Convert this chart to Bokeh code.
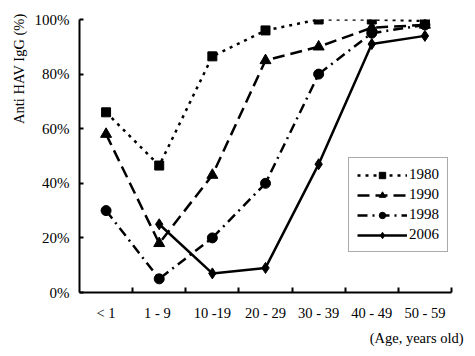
from bokeh.plotting import figure
from bokeh.models import FixedTicker, Legend, LegendItem, Range1d, Title
from bokeh.embed import file_html
from bokeh.resources import INLINE

categories = ["< 1", "1 -  9", "10 -19", "20 - 29", "30 - 39", "40 - 49", "50 - 59"]
y_ticks = [0, 20, 40, 60, 80, 100]
y_tick_labels = ["0%", "20%", "40%", "60%", "80%", "100%"]

s1980 = [66, 46.5, 86.5, 96, 100, 100, 99.5]
s1990 = [58, 18, 43, 85, 90, 97, 98]
s1998 = [30, 5, 20, 40, 80, 95, 98]
s2006 = [None, 25, 7, 9, 47, 91, 94]

FONT = "Liberation Serif"

p = figure(width=475, height=356, output_backend="svg", toolbar_location=None,
           x_range=Range1d(0, 7), y_range=Range1d(0, 100),
           min_border_left=79, min_border_right=24, min_border_top=19, min_border_bottom=64)
p.outline_line_color = None
p.xgrid.visible = False
p.ygrid.visible = False
p.background_fill_color = "white"
p.border_fill_color = "white"

xs_all = [i + 0.5 for i in range(len(categories))]

def pts(vals):
    xs, ys = [], []
    for x, v in zip(xs_all, vals):
        if v is not None:
            xs.append(x)
            ys.append(v)
    return xs, ys

items = []
specs = [
    ("1980", s1980, "3 5", "square", 9),
    ("1990", s1990, "12 6", "triangle", 11),
    ("1998", s1998, "10 5 2 5", "circle", 10),
    ("2006", s2006, "solid", "diamond", 11),
]
for name, vals, dash, marker, size in specs:
    xs, ys = pts(vals)
    r1 = p.line(xs, ys, line_color="black", line_width=2.5, line_dash=dash)
    r2 = p.scatter(xs, ys, marker=marker, size=size, fill_color="black", line_color="black")
    items.append(LegendItem(label=name, renderers=[r1, r2]))

legend = Legend(items=items, location=(269, 40))
legend.border_line_color = "#555555"
legend.border_line_width = 1
legend.label_text_font = FONT
legend.label_text_font_size = "15px"
legend.label_text_color = "black"
legend.glyph_width = 50
legend.glyph_height = 16
legend.spacing = 3
legend.padding = 8
legend.margin = 0
legend.label_standoff = 2
legend.background_fill_alpha = 1
p.add_layout(legend, "center")

# x axis
xa = p.xaxis[0]
xa.ticker = FixedTicker(ticks=xs_all, minor_ticks=list(range(1, 8)))
xa.major_label_overrides = {x: c for x, c in zip(xs_all, categories)}
xa.major_tick_in = 0
xa.major_tick_out = 0
xa.minor_tick_in = 5
xa.minor_tick_out = 0
xa.minor_tick_line_color = "black"
xa.minor_tick_line_width = 2
xa.axis_line_width = 2
xa.axis_line_color = "black"
xa.major_label_text_font = FONT
xa.major_label_text_font_size = "14.5px"
xa.major_label_text_color = "black"
xa.major_label_standoff = 12

# y axis
ya = p.yaxis[0]
ya.ticker = FixedTicker(ticks=y_ticks)
ya.major_label_overrides = {t: l for t, l in zip(y_ticks, y_tick_labels)}
ya.major_tick_in = 4
ya.major_tick_out = 0
ya.major_tick_line_width = 2
ya.minor_tick_line_color = None
ya.axis_line_width = 2
ya.axis_line_color = "black"
ya.major_label_text_font = FONT
ya.major_label_text_font_size = "15px"
ya.major_label_text_color = "black"
ya.major_label_standoff = 10

p.add_layout(Title(text="Anti HAV IgG (%)", align="right", text_font=FONT,
                   text_font_size="14.5px", text_font_style="normal",
                   text_color="black", offset=-6, standoff=10), "left")
p.add_layout(Title(text="(Age, years old)", align="right", text_font=FONT,
                   text_font_size="14.5px", text_font_style="normal",
                   text_color="black", offset=-12, standoff=8), "below")

open("out.html", "w").write(file_html(p, INLINE))
